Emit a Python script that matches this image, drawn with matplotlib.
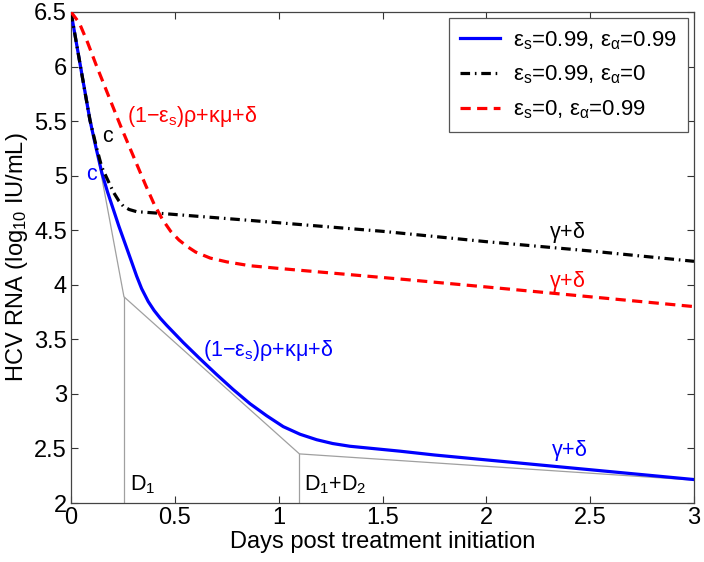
import matplotlib
matplotlib.use("Agg")
import matplotlib.pyplot as plt

plt.rcParams['font.family'] = ['Liberation Sans', 'DejaVu Sans']
plt.rcParams['mathtext.fontset'] = 'custom'
plt.rcParams['mathtext.rm'] = 'Liberation Sans'
plt.rcParams['mathtext.it'] = 'Liberation Sans'
plt.rcParams['mathtext.sf'] = 'Liberation Sans'
plt.rcParams['mathtext.default'] = 'regular'

# ---- data ----
blue_x = [0, 0.043, 0.091, 0.12, 0.148, 0.176, 0.204, 0.23, 0.26, 0.29, 0.316, 0.34,
          0.372, 0.40, 0.43, 0.461, 0.541, 0.621, 0.70, 0.781, 0.862, 0.942, 1.022,
          1.103, 1.183, 1.26, 1.343, 1.45, 1.584, 1.75, 2.0, 2.25, 2.5, 2.75, 3.0]
blue_y = [6.5, 6.03, 5.51, 5.26, 5.03, 4.85, 4.69, 4.54, 4.38, 4.22, 4.08, 3.965,
          3.846, 3.765, 3.693, 3.628, 3.47, 3.322, 3.18, 3.04, 2.91, 2.80, 2.70,
          2.63, 2.58, 2.545, 2.52, 2.50, 2.475, 2.44, 2.395, 2.35, 2.305, 2.26, 2.215]

black_x = [0, 0.043, 0.091, 0.124, 0.148, 0.172, 0.204, 0.23, 0.252, 0.28, 0.316,
           0.428, 0.862, 1.5, 2.0, 2.5, 3.0]
black_y = [6.5, 6.03, 5.51, 5.25, 5.08, 4.98, 4.85, 4.77, 4.72, 4.69, 4.67,
           4.655, 4.59, 4.49, 4.395, 4.31, 4.215]

red_x = [0, 0.04, 0.08, 0.12, 0.16, 0.2, 0.24, 0.28, 0.32, 0.36, 0.4, 0.44, 0.48,
         0.52, 0.56, 0.6, 0.67, 0.75, 0.86, 1.0, 1.3, 1.6, 2.0, 2.5, 3.0]
red_y = [6.5, 6.40, 6.22, 6.02, 5.83, 5.64, 5.45, 5.27, 5.09, 4.91, 4.74, 4.60, 4.49,
         4.41, 4.35, 4.30, 4.245, 4.21, 4.175, 4.15, 4.10, 4.05, 3.98, 3.89, 3.80]

phase_x = [0, 0.255, 1.1, 3.0]
phase_y = [6.5, 3.89, 2.45, 2.21]

legend_labels = [r'$\varepsilon_s$=0.99, $\varepsilon_\alpha$=0.99',
                 r'$\varepsilon_s$=0.99, $\varepsilon_\alpha$=0',
                 r'$\varepsilon_s$=0, $\varepsilon_\alpha$=0.99']

xticks = [0, 0.5, 1, 1.5, 2, 2.5, 3]
yticks = [2, 2.5, 3, 3.5, 4, 4.5, 5, 5.5, 6, 6.5]

FS = 17
FS_TXT = 15.5

fig = plt.figure(figsize=(7.04, 5.62), dpi=100)
ax = fig.add_axes([71/704, 1 - 503/562, 623/704, 491/562])

# gray phase construction lines
ax.plot(phase_x, phase_y, color='#a0a0a0', lw=0.9, zorder=1)
ax.plot([phase_x[1], phase_x[1]], [2, phase_y[1]], color='#a0a0a0', lw=0.9, zorder=1)
ax.plot([phase_x[2], phase_x[2]], [2, phase_y[2]], color='#a0a0a0', lw=0.9, zorder=1)

lb, = ax.plot(blue_x, blue_y, color='#0000ff', lw=2.3, zorder=3, label=legend_labels[0])
lk, = ax.plot(black_x, black_y, color='black', lw=2.3, zorder=4,
              dashes=(3, 1.5, 0.5, 1.5), label=legend_labels[1])
lr, = ax.plot(red_x, red_y, color='#ff0000', lw=2.3, zorder=4,
              dashes=(3.2, 2.0), label=legend_labels[2])

ax.set_xlim(0, 3)
ax.set_ylim(2, 6.5)
ax.set_xticks(xticks)
ax.set_xticklabels(['0', '0.5', '1', '1.5', '2', '2.5', '3'])
ax.set_yticks(yticks)
ax.set_yticklabels(['2', '2.5', '3', '3.5', '4', '4.5', '5', '5.5', '6', '6.5'])
ax.tick_params(direction='in', length=5, width=0.8, top=True, right=True,
               labelsize=FS, colors='#333333', labelcolor='black', pad=3)
for s in ax.spines.values():
    s.set_color('#444444')
    s.set_linewidth(0.9)

ax.set_xlabel('Days post treatment initiation', fontsize=FS, labelpad=1)
ax.set_ylabel(r'HCV RNA (log$_{10}$ IU/mL)', fontsize=FS, labelpad=3)

# annotations
ax.text(0.27, 5.54, r'(1$-\varepsilon_s$)$\rho$+$\kappa\mu$+$\delta$', color='#ff0000',
        fontsize=FS_TXT, ha='left', va='center')
ax.text(0.148, 5.36, 'c', color='black', fontsize=FS_TXT, ha='left', va='center')
ax.text(0.072, 5.01, 'c', color='#0000ff', fontsize=FS_TXT, ha='left', va='center')
ax.text(0.637, 3.40, r'(1$-\varepsilon_s$)$\rho$+$\kappa\mu$+$\delta$', color='#0000ff',
        fontsize=FS_TXT, ha='left', va='center')
ax.text(2.387, 4.48, r'$\gamma$+$\delta$', color='black', fontsize=FS_TXT, ha='center', va='center')
ax.text(2.387, 4.03, r'$\gamma$+$\delta$', color='#ff0000', fontsize=FS_TXT, ha='center', va='center')
ax.text(2.40, 2.48, r'$\gamma$+$\delta$', color='#0000ff', fontsize=FS_TXT, ha='center', va='center')
ax.text(0.284, 2.12, r'D$_1$', color='black', fontsize=FS_TXT, ha='left', va='baseline')
ax.text(1.122, 2.12, r'D$_1$+D$_2$', color='black', fontsize=FS_TXT, ha='left', va='baseline')

leg = ax.legend(handles=[lb, lk, lr], loc='upper right', bbox_to_anchor=(0.990, 0.988),
                bbox_transform=ax.transAxes, fontsize=16, frameon=True, fancybox=False,
                borderaxespad=0, handlelength=1.8, handletextpad=0.55, borderpad=0.5,
                labelspacing=0.55)
leg.get_frame().set_edgecolor('#555555')
leg.get_frame().set_linewidth(0.9)
leg.get_frame().set_alpha(1)

fig.savefig('out.png', dpi=100)
